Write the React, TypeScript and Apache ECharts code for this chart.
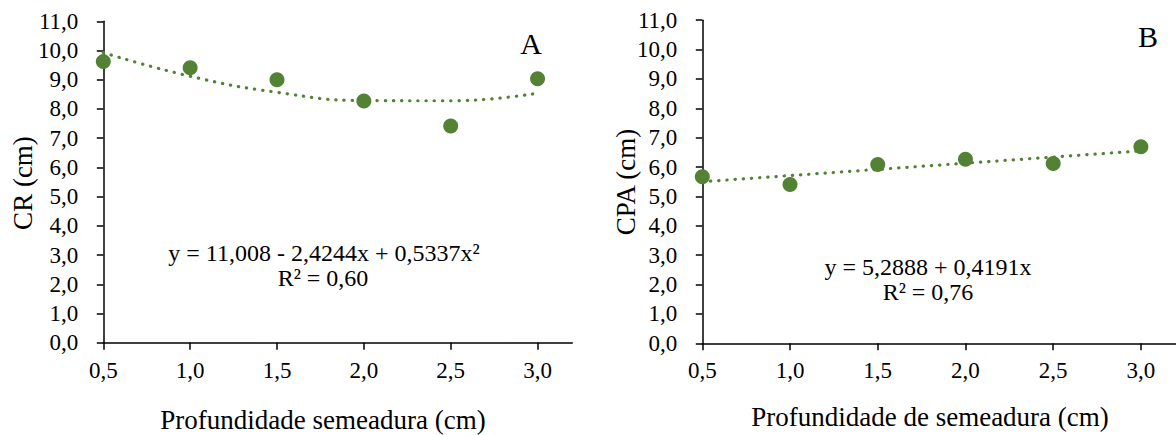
import React, { useEffect, useRef } from "react";
import * as echarts from "echarts";

const depths = [0.5, 1.0, 1.5, 2.0, 2.5, 3.0];
const crValues = [9.62, 9.41, 9.0, 8.27, 7.42, 9.03];
const cpaValues = [5.67, 5.41, 6.09, 6.27, 6.12, 6.69];
const crTrend = [9.93, 9.12, 8.57, 8.29, 8.28, 8.54];
const cpaTrendDepths = [0.5, 3.0];
const cpaTrend = [5.5, 6.55];
const xTickValues = [0.5, 1.0, 1.5, 2.0, 2.5, 3.0];

const GREEN = "#548235";
const FONT = "Liberation Serif";

const fmt = (v: number) => v.toFixed(1).replace(".", ",");

function makeX(gridIndex: number) {
  return {
    type: "value",
    gridIndex,
    min: 0.5,
    max: 3.2,
    axisLine: { show: true, onZero: false, lineStyle: { color: "#000", width: 1.5 } },
    axisTick: { show: true, length: 7, customValues: xTickValues, lineStyle: { color: "#000", width: 1.5 } },
    axisLabel: {
      customValues: xTickValues,
      formatter: (v: number) => fmt(v),
      fontFamily: FONT,
      fontSize: 23,
      color: "#000",
      margin: 16,
    },
    splitLine: { show: false },
  };
}

function makeY(gridIndex: number) {
  return {
    type: "value",
    gridIndex,
    min: 0,
    max: 11,
    interval: 1,
    axisLine: { show: true, lineStyle: { color: "#000", width: 1.5 } },
    axisTick: { show: true, length: 6.5, lineStyle: { color: "#000", width: 1.5 } },
    axisLabel: {
      formatter: (v: number) => fmt(v),
      fontFamily: FONT,
      fontSize: 23,
      color: "#000",
      margin: 25,
    },
    splitLine: { show: false },
  };
}

function txt(x: number, y: number, text: string, size: number, rotation = 0) {
  return {
    type: "text",
    x,
    y,
    rotation,
    style: {
      text,
      fontFamily: FONT,
      fontSize: size,
      fill: "#000",
      align: "center",
      verticalAlign: "middle",
    },
  };
}

export default function App() {
  const ref = useRef<HTMLDivElement>(null);
  useEffect(() => {
    if (!ref.current) return;
    const chart = echarts.init(ref.current, null, { renderer: "svg" });
    const trendStyle = {
      color: GREEN,
      width: 3.2,
      type: [0.3, 7.9],
      cap: "round",
    };
    chart.setOption({
      animation: false,
      backgroundColor: "#fff",
      grid: [
        { left: 103.3, top: 21.3, width: 469, height: 321.4 },
        { left: 702.3, top: 20.2, width: 473.8, height: 323.1 },
      ],
      xAxis: [makeX(0), makeX(1)],
      yAxis: [makeY(0), makeY(1)],
      series: [
        {
          type: "line",
          xAxisIndex: 0,
          yAxisIndex: 0,
          data: depths.map((d, i) => [d, crTrend[i]]),
          smooth: 0.5,
          symbol: "none",
          lineStyle: trendStyle,
          z: 3,
        },
        {
          type: "scatter",
          xAxisIndex: 0,
          yAxisIndex: 0,
          data: depths.map((d, i) => [d, crValues[i]]),
          symbol: "circle",
          symbolSize: 15,
          itemStyle: { color: GREEN, opacity: 1 },
          z: 2,
        },
        {
          type: "line",
          xAxisIndex: 1,
          yAxisIndex: 1,
          data: cpaTrendDepths.map((d, i) => [d, cpaTrend[i]]),
          symbol: "none",
          lineStyle: trendStyle,
          z: 3,
        },
        {
          type: "scatter",
          xAxisIndex: 1,
          yAxisIndex: 1,
          data: depths.map((d, i) => [d, cpaValues[i]]),
          symbol: "circle",
          symbolSize: 15,
          itemStyle: { color: GREEN, opacity: 1 },
          z: 2,
        },
      ],
      graphic: [
        txt(323, 420, "Profundidade semeadura (cm)", 27),
        txt(930, 417, "Profundidade de semeadura (cm)", 27),
        txt(23, 183, "CR (cm)", 27, Math.PI / 2),
        txt(626, 182, "CPA (cm)", 27, Math.PI / 2),
        txt(324, 253, "y = 11,008 - 2,4244x + 0,5337x²", 24),
        txt(323, 278, "R² = 0,60", 24),
        txt(928, 267, "y = 5,2888 + 0,4191x", 24),
        txt(928, 292, "R² = 0,76", 24),
        txt(531, 43, "A", 30),
        txt(1148, 36, "B", 30),
      ],
    });
    return () => chart.dispose();
  }, []);
  return (
    <div
      ref={ref}
      style={{ position: "fixed", left: 0, top: 0, width: 1176, height: 435, background: "#fff" }}
    />
  );
}
